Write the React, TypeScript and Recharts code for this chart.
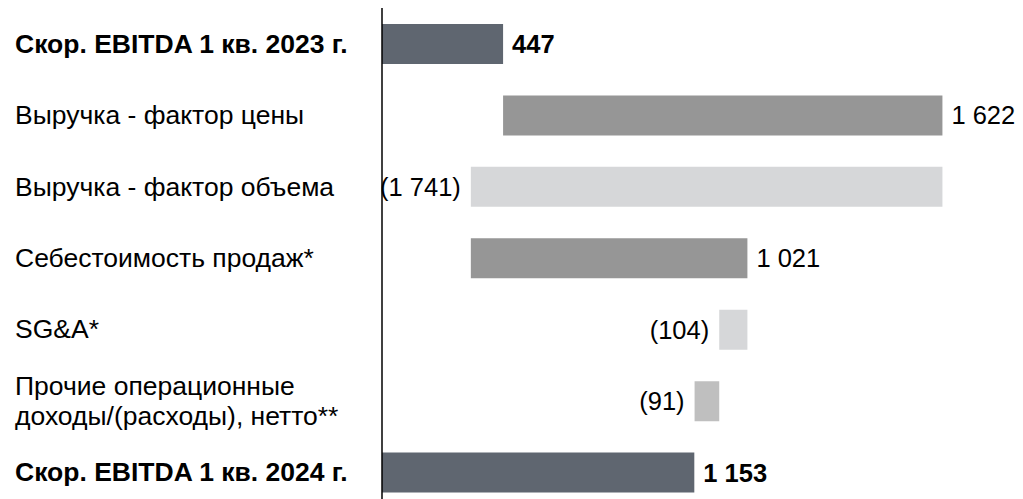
import { BarChart, Bar, XAxis, YAxis, Cell, LabelList } from "recharts";

// categories (line breaks for multi-line labels)
const categories = [
  "Скор. EBITDA 1 кв. 2023 г.",
  "Выручка - фактор цены",
  "Выручка - фактор объема",
  "Себестоимость продаж*",
  "SG&A*",
  "Прочие операционные\nдоходы/(расходы), нетто**",
  "Скор. EBITDA 1 кв. 2024 г.",
];
// first and last are totals, the rest are deltas
const values = [447, 1622, -1741, 1021, -104, -91, 1153];
const isTotal = [true, false, false, false, false, false, true];
const colors = ["#5f6670", "#969696", "#d6d7d9", "#969696", "#d6d7d9", "#bfbfbf", "#5f6670"];

const fmt = (n: number) => {
  const s = String(Math.abs(n)).replace(/\B(?=(\d{3})+(?!\d))/g, " ");
  return n < 0 ? `(${s})` : s;
};

// build waterfall rows: invisible base + visible segment
let running = 0;
const data = categories.map((name, i) => {
  const v = values[i];
  let base = 0;
  let size = v;
  if (isTotal[i]) {
    running = v;
  } else {
    const end = running + v;
    base = Math.min(running, end);
    size = Math.abs(v);
    running = end;
  }
  return { name, base, size, value: v, total: isTotal[i] };
});

const FONT = "'Liberation Sans', Arial, sans-serif";
const FS = 26.5;

const CategoryTick = (props: any) => {
  const { y, payload, index } = props;
  const lines = String(payload.value).split("\n");
  const bold = isTotal[index];
  const lh = 30;
  const start = -((lines.length - 1) * lh) / 2;
  return (
    <text
      x={7}
      y={y}
      fontFamily={FONT}
      fontSize={FS}
      fontWeight={bold ? "bold" : "normal"}
      fill="#000"
      textAnchor="start"
      dominantBaseline="central"
    >
      {lines.map((l, k) => (
        <tspan key={k} x={7} dy={k === 0 ? start : lh}>
          {l}
        </tspan>
      ))}
    </text>
  );
};

const ValueLabel = (props: any) => {
  const { x, y, width, height, index } = props;
  const v = values[index];
  const neg = v < 0;
  return (
    <text
      x={neg ? x - 10 : x + width + 9}
      y={y + height / 2}
      fontFamily={FONT}
      fontSize={25.5}
      fontWeight={isTotal[index] ? "bold" : "normal"}
      fill="#000"
      textAnchor={neg ? "end" : "start"}
      dominantBaseline="central"
    >
      {fmt(v)}
    </text>
  );
};

export default function App() {
  return (
    <>
      {/* chart runs past the bottom edge like the original; avoid a scrollbar */}
      <style>{"html, body { overflow: hidden; } svg.recharts-surface { overflow: visible; }"}</style>
      <BarChart
        width={1015}
        height={500}
        data={data}
        layout="vertical"
        margin={{ top: 0, right: 18, bottom: 0, left: 0 }}
      >
        <XAxis type="number" hide domain={[0, 2300]} />
        <YAxis
          type="category"
          dataKey="name"
          width={374}
          axisLine={{ stroke: "#000", strokeWidth: 1.5 }}
          tickLine={false}
          tick={<CategoryTick />}
          interval={0}
        />
        <Bar dataKey="base" stackId="w" fill="transparent" isAnimationActive={false} barSize={40} />
        <Bar dataKey="size" stackId="w" isAnimationActive={false} barSize={40}>
          {data.map((d, i) => (
            <Cell key={i} fill={colors[i]} />
          ))}
          <LabelList dataKey="size" content={<ValueLabel />} />
        </Bar>
      </BarChart>
    </>
  );
}
